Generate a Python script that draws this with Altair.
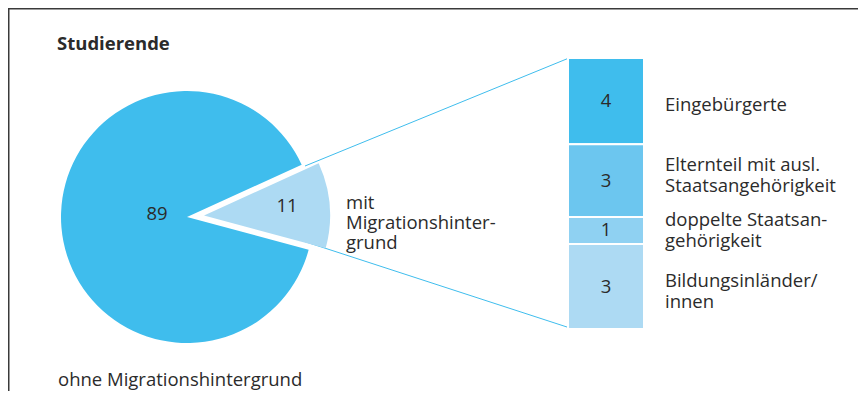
import math
import altair as alt
import pandas as pd

# ---- data ----
pie_categories = ["mit Migrationshintergrund", "ohne Migrationshintergrund"]
pie_values = [11, 89]
pie_labels = ["11", "89"]

bar_categories = ["Eingebürgerte", "Elternteil mit ausl. Staatsangehörigkeit",
                  "doppelte Staatsangehörigkeit", "Bildungsinländer/innen"]
bar_values = [3.5, 2.95, 1.1, 3.45]
bar_labels = ["4", "3", "1", "3"]
bar_text = [["Eingebürgerte"],
            ["Elternteil mit ausl.", "Staatsangehörigkeit"],
            ["doppelte Staatsan-", "gehörigkeit"],
            ["Bildungsinländer/", "innen"]]

title_text = "Studierende"
pie_caption_small = ["mit", "Migrationshinter-", "grund"]
pie_caption_big = "ohne Migrationshintergrund"

# ---- styles / layout ----
FONT = "Open Sans"
FS = 18.5
LH = 21
TXT = "#2b2b2b"
colors = {
    "mit Migrationshintergrund": "#addaf3",
    "ohne Migrationshintergrund": "#3fbded",
    "Eingebürgerte": "#3fbded",
    "Elternteil mit ausl. Staatsangehörigkeit": "#6cc6ef",
    "doppelte Staatsangehörigkeit": "#8fd1f2",
    "Bildungsinländer/innen": "#addaf3",
}
W, H = 850, 383
CX, CY, R = 179, 209, 126
EX, EY = 196, 207.5
start = math.radians(65.5)

color_scale = alt.Scale(domain=list(colors.keys()), range=list(colors.values()))

pie_df = pd.DataFrame({"cat": pie_categories, "value": pie_values,
                       "label": pie_labels, "order": [0, 1]})
bar_df = pd.DataFrame({"cat": bar_categories, "value": bar_values,
                       "label": bar_labels, "order": list(range(len(bar_values))),
                       "text": bar_text})

theta = alt.Theta("value:Q", stack=True,
                  scale=alt.Scale(range=[start, start + 2 * math.pi]))
pie_base = alt.Chart(pie_df).encode(
    theta=theta,
    order=alt.Order("order:Q"),
    color=alt.Color("cat:N", scale=color_scale, legend=None),
)

big_pie = pie_base.mark_arc(outerRadius=R).encode(
    x=alt.value(CX), y=alt.value(CY),
    opacity=alt.condition(alt.datum.order == 1, alt.value(1), alt.value(0)),
)
small_pie = pie_base.mark_arc(outerRadius=R).encode(
    x=alt.value(EX), y=alt.value(EY),
    opacity=alt.condition(alt.datum.order == 0, alt.value(1), alt.value(0)),
)
big_label = alt.Chart(pie_df[pie_df["order"] == 1]).mark_text(
    font=FONT, fontSize=FS, color=TXT).encode(
    x=alt.value(149), y=alt.value(206), text="label:N")
small_label = alt.Chart(pie_df[pie_df["order"] == 0]).mark_text(
    font=FONT, fontSize=FS, color=TXT).encode(
    x=alt.value(279), y=alt.value(198), text="label:N")

# connector lines
line_top = alt.Chart(pie_df.head(1)).mark_rule(color="#3fbded", strokeWidth=1).encode(
    x=alt.value(297), y=alt.value(158), x2=alt.value(561), y2=alt.value(50))
line_bot = alt.Chart(pie_df.head(1)).mark_rule(color="#3fbded", strokeWidth=1).encode(
    x=alt.value(292), y=alt.value(232), x2=alt.value(562), y2=alt.value(320))

# stacked bar
total = sum(bar_values)
yscale = alt.Scale(domain=[0, total], range=[50, 321])
bar_base = alt.Chart(bar_df).transform_stack(
    stack="value", groupby=[], as_=["y0", "y1"],
    sort=[alt.SortField("order", order="ascending")]
).transform_calculate(mid="(datum.y0 + datum.y1) / 2")

bar = bar_base.mark_bar(stroke="white", strokeWidth=2).encode(
    x=alt.value(560), x2=alt.value(636),
    y=alt.Y("y0:Q", scale=yscale, axis=None), y2="y1:Q",
    color=alt.Color("cat:N", scale=color_scale, legend=None),
)
bar_nums = bar_base.mark_text(font=FONT, fontSize=FS, color=TXT).encode(
    x=alt.value(598), y=alt.Y("mid:Q", scale=yscale, axis=None), text="label:N")

label_offsets = [4, -5, 0, 5]
side_labels = []
for i, cat in enumerate(bar_categories):
    side_labels.append(
        bar_base.transform_filter(alt.datum.order == i).mark_text(
            font=FONT, fontSize=FS, color=TXT, align="left", baseline="middle",
            lineHeight=LH, dy=label_offsets[i] - (len(bar_text[i]) - 1) * LH / 2
        ).encode(x=alt.value(657), y=alt.Y("mid:Q", scale=yscale, axis=None),
                 text="text"))

# texts
title = alt.Chart(pie_df.head(1)).mark_text(
    font=FONT, fontSize=FS, fontWeight="bold", color=TXT, align="left").encode(
    x=alt.value(49), y=alt.value(36), text=alt.value(title_text))
cap_small = alt.Chart(pie_df.head(1)).mark_text(
    font=FONT, fontSize=FS, color=TXT, align="left", baseline="middle",
    lineHeight=20).encode(
    x=alt.value(338), y=alt.value(195), text=alt.value(pie_caption_small))
cap_big = alt.Chart(pie_df.head(1)).mark_text(
    font=FONT, fontSize=FS, color=TXT, align="left").encode(
    x=alt.value(50), y=alt.value(372), text=alt.value(pie_caption_big))

frame_top = alt.Chart(pie_df.head(1)).mark_rule(stroke="#3a3a3a", strokeWidth=1.5).encode(
    x=alt.value(0), x2=alt.value(W), y=alt.value(0.75))
frame_left = alt.Chart(pie_df.head(1)).mark_rule(stroke="#3a3a3a", strokeWidth=1.5).encode(
    x=alt.value(0.75), y=alt.value(0), y2=alt.value(H))

chart = alt.layer(
    frame_top, frame_left, line_top, line_bot, big_pie, small_pie, big_label,
    small_label, bar, bar_nums, *side_labels, title, cap_small, cap_big
).properties(
    width=W, height=H, autosize=alt.AutoSizeParams(type="none"), padding=0,
    background="white"
).configure_view(stroke=None)

chart.save("out.html", embed_options={"renderer": "svg", "actions": False})
